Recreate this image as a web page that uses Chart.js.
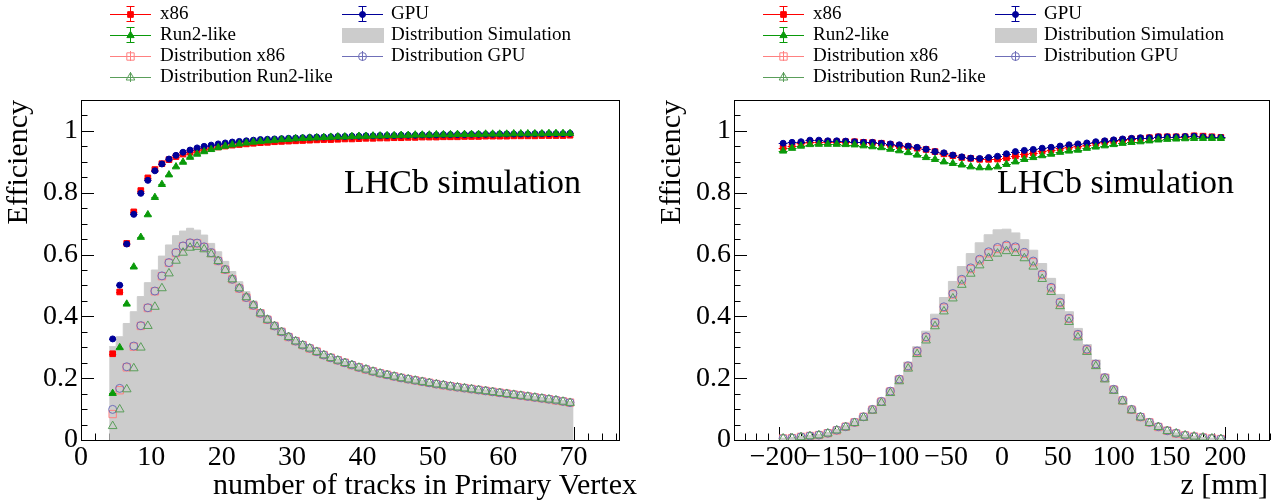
<!DOCTYPE html>
<html>
<head>
<meta charset="utf-8">
<script src="https://cdn.jsdelivr.net/npm/chart.js@4.4.1/dist/chart.umd.min.js"></script>
<style>
html, body { margin: 0; padding: 0; background: #fff; }
#wrap { position: relative; width: 1278px; height: 503px; overflow: hidden; }
canvas { position: absolute; top: 0; }
#fontProbe { position: absolute; left: -1000px; top: 0; font-family: "Liberation Serif"; font-size: 20px; }
</style>
</head>
<body>
<span id="fontProbe">LHCb simulation 0123456789</span>
<div id="wrap">
<canvas id="leftChart" width="653" height="503" style="left:0px"></canvas>
<canvas id="rightChart" width="625" height="503" style="left:653px"></canvas>
</div>
<script>
// ---- left pad: efficiency vs number of tracks in the PV ----
const nTracks = [4.5, 5.5, 6.5, 7.5, 8.5, 9.5, 10.5, 11.5, 12.5, 13.5,
  14.5, 15.5, 16.5, 17.5, 18.5, 19.5, 20.5, 21.5, 22.5, 23.5,
  24.5, 25.5, 26.5, 27.5, 28.5, 29.5, 30.5, 31.5, 32.5, 33.5,
  34.5, 35.5, 36.5, 37.5, 38.5, 39.5, 40.5, 41.5, 42.5, 43.5,
  44.5, 45.5, 46.5, 47.5, 48.5, 49.5, 50.5, 51.5, 52.5, 53.5,
  54.5, 55.5, 56.5, 57.5, 58.5, 59.5, 60.5, 61.5, 62.5, 63.5,
  64.5, 65.5, 66.5, 67.5, 68.5, 69.5];

const effX86Tracks = [0.279, 0.479, 0.636, 0.738, 0.807, 0.848, 0.875, 0.894, 0.907, 0.917,
  0.925, 0.931, 0.937, 0.941, 0.945, 0.948, 0.951, 0.954, 0.956, 0.958,
  0.960, 0.962, 0.963, 0.965, 0.966, 0.967, 0.968, 0.969, 0.970, 0.971,
  0.972, 0.972, 0.973, 0.974, 0.974, 0.975, 0.976, 0.976, 0.977, 0.977,
  0.978, 0.978, 0.979, 0.979, 0.980, 0.980, 0.980, 0.981, 0.981, 0.981,
  0.982, 0.982, 0.982, 0.983, 0.983, 0.983, 0.983, 0.984, 0.984, 0.984,
  0.984, 0.985, 0.985, 0.985, 0.985, 0.986];

const effGpuTracks = [0.327, 0.501, 0.634, 0.730, 0.798, 0.840, 0.871, 0.893, 0.909, 0.921,
  0.931, 0.938, 0.945, 0.950, 0.954, 0.958, 0.961, 0.964, 0.966, 0.968,
  0.970, 0.972, 0.973, 0.974, 0.975, 0.976, 0.977, 0.978, 0.979, 0.980,
  0.980, 0.981, 0.982, 0.982, 0.983, 0.983, 0.984, 0.984, 0.985, 0.985,
  0.985, 0.986, 0.986, 0.986, 0.987, 0.987, 0.987, 0.988, 0.988, 0.988,
  0.988, 0.989, 0.989, 0.989, 0.989, 0.990, 0.990, 0.990, 0.990, 0.990,
  0.991, 0.991, 0.991, 0.991, 0.991, 0.992];

const effRun2Tracks = [0.151, 0.299, 0.440, 0.560, 0.656, 0.729, 0.785, 0.827, 0.858, 0.884,
  0.899, 0.915, 0.925, 0.933, 0.940, 0.946, 0.951, 0.955, 0.958, 0.961,
  0.964, 0.966, 0.968, 0.970, 0.972, 0.973, 0.975, 0.976, 0.977, 0.978,
  0.979, 0.980, 0.981, 0.981, 0.982, 0.983, 0.983, 0.984, 0.984, 0.985,
  0.985, 0.986, 0.986, 0.987, 0.987, 0.987, 0.988, 0.988, 0.988, 0.989,
  0.989, 0.989, 0.989, 0.990, 0.990, 0.990, 0.990, 0.991, 0.991, 0.991,
  0.991, 0.991, 0.992, 0.992, 0.992, 0.992];

const distX86Tracks = [0.084, 0.161, 0.235, 0.302, 0.369, 0.427, 0.481, 0.530, 0.573, 0.605,
  0.627, 0.637, 0.636, 0.624, 0.605, 0.579, 0.551, 0.520, 0.490, 0.461,
  0.435, 0.410, 0.389, 0.369, 0.350, 0.333, 0.320, 0.307, 0.296, 0.286,
  0.275, 0.266, 0.258, 0.250, 0.242, 0.235, 0.228, 0.222, 0.216, 0.211,
  0.206, 0.201, 0.197, 0.193, 0.189, 0.185, 0.181, 0.177, 0.174, 0.171,
  0.168, 0.165, 0.162, 0.159, 0.156, 0.153, 0.150, 0.147, 0.144, 0.141,
  0.138, 0.135, 0.132, 0.128, 0.125, 0.121];

const distGpuTracks = [0.099, 0.167, 0.237, 0.304, 0.370, 0.428, 0.482, 0.531, 0.574, 0.606,
  0.628, 0.638, 0.637, 0.625, 0.606, 0.580, 0.552, 0.520, 0.491, 0.461,
  0.436, 0.410, 0.390, 0.369, 0.350, 0.334, 0.320, 0.307, 0.297, 0.286,
  0.275, 0.266, 0.258, 0.250, 0.243, 0.235, 0.229, 0.222, 0.216, 0.211,
  0.206, 0.201, 0.197, 0.193, 0.189, 0.185, 0.181, 0.178, 0.174, 0.171,
  0.168, 0.165, 0.162, 0.159, 0.156, 0.153, 0.150, 0.147, 0.144, 0.141,
  0.138, 0.135, 0.132, 0.129, 0.125, 0.121];

const distRun2Tracks = [0.045, 0.099, 0.164, 0.232, 0.299, 0.369, 0.431, 0.491, 0.539, 0.580,
  0.606, 0.622, 0.625, 0.617, 0.601, 0.579, 0.550, 0.520, 0.491, 0.462,
  0.436, 0.410, 0.389, 0.368, 0.349, 0.333, 0.319, 0.306, 0.296, 0.285,
  0.274, 0.265, 0.257, 0.249, 0.242, 0.234, 0.228, 0.221, 0.215, 0.210,
  0.205, 0.200, 0.196, 0.192, 0.188, 0.184, 0.180, 0.177, 0.173, 0.170,
  0.167, 0.164, 0.161, 0.158, 0.155, 0.152, 0.149, 0.146, 0.143, 0.140,
  0.137, 0.134, 0.131, 0.128, 0.124, 0.120];

const distSimTracks = [0.302, 0.334, 0.377, 0.415, 0.464, 0.509, 0.550, 0.595, 0.631, 0.661,
  0.676, 0.685, 0.679, 0.663, 0.636, 0.609, 0.578, 0.545, 0.512, 0.480,
  0.450, 0.422, 0.399, 0.378, 0.358, 0.341, 0.326, 0.313, 0.301, 0.290,
  0.280, 0.270, 0.262, 0.254, 0.246, 0.239, 0.232, 0.225, 0.219, 0.214,
  0.209, 0.204, 0.200, 0.196, 0.192, 0.188, 0.184, 0.181, 0.177, 0.174,
  0.171, 0.168, 0.165, 0.162, 0.159, 0.156, 0.153, 0.150, 0.147, 0.144,
  0.141, 0.138, 0.135, 0.132, 0.128, 0.124];

const tracksTicks = [0, 10, 20, 30, 40, 50, 60, 70];

// ---- right pad: efficiency vs z of the PV ----
const zPos = [-196, -188, -180, -172, -164, -156, -148, -140, -132, -124,
  -116, -108, -100, -92, -84, -76, -68, -60, -52, -44,
  -36, -28, -20, -12, -4, 4, 12, 20, 28, 36,
  44, 52, 60, 68, 76, 84, 92, 100, 108, 116,
  124, 132, 140, 148, 156, 164, 172, 180, 188, 196];

const effX86Z = [0.946, 0.951, 0.960, 0.965, 0.965, 0.965, 0.965, 0.965, 0.965, 0.963,
  0.962, 0.960, 0.956, 0.952, 0.949, 0.944, 0.940, 0.933, 0.926, 0.920,
  0.914, 0.911, 0.908, 0.908, 0.909, 0.913, 0.919, 0.924, 0.929, 0.935,
  0.939, 0.944, 0.949, 0.952, 0.956, 0.960, 0.965, 0.968, 0.971, 0.974,
  0.976, 0.978, 0.981, 0.981, 0.981, 0.981, 0.984, 0.983, 0.981, 0.979];

const effGpuZ = [0.960, 0.963, 0.965, 0.970, 0.970, 0.968, 0.968, 0.967, 0.965, 0.963,
  0.963, 0.960, 0.958, 0.955, 0.951, 0.947, 0.941, 0.933, 0.929, 0.922,
  0.916, 0.912, 0.911, 0.914, 0.918, 0.926, 0.933, 0.937, 0.940, 0.944,
  0.947, 0.951, 0.955, 0.958, 0.961, 0.965, 0.968, 0.971, 0.974, 0.976,
  0.978, 0.978, 0.981, 0.981, 0.981, 0.982, 0.983, 0.981, 0.980, 0.979];

const effRun2Z = [0.935, 0.944, 0.951, 0.956, 0.957, 0.957, 0.957, 0.956, 0.955, 0.952,
  0.949, 0.946, 0.941, 0.936, 0.930, 0.922, 0.914, 0.908, 0.900, 0.895,
  0.890, 0.884, 0.881, 0.881, 0.884, 0.892, 0.900, 0.908, 0.914, 0.920,
  0.925, 0.931, 0.935, 0.938, 0.944, 0.948, 0.952, 0.956, 0.960, 0.963,
  0.965, 0.968, 0.971, 0.973, 0.974, 0.975, 0.976, 0.976, 0.976, 0.976];

const distX86Z = [0.005, 0.006, 0.010, 0.013, 0.016, 0.022, 0.031, 0.043, 0.057, 0.075,
  0.098, 0.124, 0.157, 0.196, 0.238, 0.286, 0.332, 0.379, 0.428, 0.471,
  0.516, 0.553, 0.581, 0.604, 0.618, 0.627, 0.621, 0.603, 0.575, 0.534,
  0.491, 0.443, 0.392, 0.340, 0.292, 0.245, 0.201, 0.163, 0.128, 0.098,
  0.074, 0.057, 0.042, 0.030, 0.021, 0.015, 0.011, 0.008, 0.005, 0.003];

const distGpuZ = [0.005, 0.006, 0.010, 0.013, 0.016, 0.022, 0.032, 0.043, 0.057, 0.075,
  0.099, 0.125, 0.158, 0.197, 0.240, 0.288, 0.334, 0.381, 0.431, 0.474,
  0.520, 0.557, 0.585, 0.609, 0.623, 0.631, 0.625, 0.607, 0.579, 0.537,
  0.494, 0.446, 0.394, 0.342, 0.294, 0.246, 0.202, 0.164, 0.129, 0.099,
  0.075, 0.057, 0.043, 0.030, 0.022, 0.015, 0.011, 0.008, 0.005, 0.003];

const distRun2Z = [0.005, 0.006, 0.009, 0.012, 0.015, 0.021, 0.031, 0.041, 0.055, 0.072,
  0.095, 0.120, 0.152, 0.190, 0.231, 0.278, 0.322, 0.368, 0.416, 0.458,
  0.502, 0.538, 0.565, 0.589, 0.603, 0.611, 0.605, 0.588, 0.561, 0.521,
  0.479, 0.433, 0.382, 0.332, 0.285, 0.239, 0.196, 0.159, 0.125, 0.096,
  0.073, 0.055, 0.042, 0.029, 0.021, 0.015, 0.011, 0.008, 0.005, 0.003];

const distSimZ = [0.006, 0.008, 0.011, 0.014, 0.018, 0.024, 0.034, 0.046, 0.061, 0.080,
  0.104, 0.132, 0.166, 0.206, 0.252, 0.302, 0.352, 0.407, 0.461, 0.513,
  0.561, 0.603, 0.638, 0.664, 0.680, 0.682, 0.670, 0.648, 0.614, 0.571,
  0.523, 0.471, 0.415, 0.361, 0.309, 0.259, 0.213, 0.172, 0.136, 0.105,
  0.079, 0.060, 0.045, 0.032, 0.023, 0.016, 0.012, 0.008, 0.006, 0.004];

const zTicks = [-200, -150, -100, -50, 0, 50, 100, 150, 200];

const effTicks = [0, 0.2, 0.4, 0.6, 0.8, 1];

// marker styles, ROOT-like
const st = {
  x86:   { color: '#ff0000', shape: 'rect', r: 4, filled: true },
  gpu:   { color: '#000099', shape: 'circle', r: 3, filled: true },
  run2:  { color: '#0a9a0a', shape: 'triangle', r: 4.2, filled: true },
  dX86:  { color: '#ff8080', shape: 'rect', r: 5.2, filled: false },
  dGpu:  { color: '#6f6fb8', shape: 'circle', r: 4, filled: false },
  dRun2: { color: '#5a9e5a', shape: 'triangle', r: 5, filled: false },
  sim:   '#cccccc'
};

const serif = '"Liberation Serif"';

function pts(xs, ys) {
  return xs.map((x, i) => ({ x: x, y: ys[i] }));
}

// step histogram: one point per lower edge plus the closing upper edge
function histPts(xs, ys, halfBin) {
  const out = xs.map((x, i) => ({ x: x - halfBin, y: ys[i] }));
  out.push({ x: xs[xs.length - 1] + halfBin, y: ys[ys.length - 1] });
  return out;
}

function pointSet(label, s, xs, ys, xErr, order) {
  const fill = s.filled ? s.color : 'rgba(0,0,0,0)';
  return {
    label: label,
    data: pts(xs, ys),
    showLine: false,
    pointStyle: s.shape,
    pointRadius: s.r,
    pointHoverRadius: s.r,
    borderWidth: 1,
    pointBorderWidth: 1,
    borderColor: s.color,
    pointBorderColor: s.color,
    backgroundColor: fill,
    pointBackgroundColor: fill,
    xErr: xErr,
    order: order
  };
}

function drawMarker(ctx, s, x, y) {
  ctx.fillStyle = s.filled ? s.color : 'rgba(0,0,0,0)';
  ctx.strokeStyle = s.color;
  ctx.lineWidth = 1;
  Chart.helpers.drawPoint(ctx, { pointStyle: s.shape, radius: s.r, rotation: 0, borderWidth: 1 }, x, y);
}

function legendLine(ctx, s, cx, y, bar, caps) {
  ctx.strokeStyle = s.color;
  ctx.lineWidth = 1;
  ctx.beginPath();
  ctx.moveTo(cx - 20, y + 0.5);
  ctx.lineTo(cx + 21, y + 0.5);
  ctx.moveTo(cx + 0.5, y - bar);
  ctx.lineTo(cx + 0.5, y + bar);
  if (caps) {
    ctx.moveTo(cx - 3.5, y - bar + 0.5);
    ctx.lineTo(cx + 4.5, y - bar + 0.5);
    ctx.moveTo(cx - 3.5, y + bar - 0.5);
    ctx.lineTo(cx + 4.5, y + bar - 0.5);
  }
  ctx.stroke();
  drawMarker(ctx, s, cx + 0.5, y + 0.5);
}

const rootStyle = {
  id: 'rootStyle',
  beforeDatasetsDraw(chart, args, o) {
    const ctx = chart.ctx, a = chart.chartArea;
    const sx = chart.scales.x, sy = chart.scales.y;
    ctx.save();
    ctx.strokeStyle = '#000';
    ctx.lineWidth = 1;
    ctx.beginPath();
    const nx = Math.round((sx.max - sx.min) / o.xMinor);
    for (let i = 0; i <= nx; i++) {
      const v = sx.min + i * o.xMinor;
      const major = o.xMajor.some(m => Math.abs(m - v) < 1e-6);
      const px = Math.round(sx.getPixelForValue(v)) + 0.5;
      ctx.moveTo(px, a.bottom);
      ctx.lineTo(px, a.bottom - (major ? 13 : 6.5));
    }
    const ny = Math.round((sy.max - sy.min) / o.yMinor);
    for (let i = 0; i <= ny; i++) {
      const v = sy.min + i * o.yMinor;
      const major = o.yMajor.some(m => Math.abs(m - v) < 1e-6);
      const py = Math.round(sy.getPixelForValue(v)) + 0.5;
      ctx.moveTo(a.left, py);
      ctx.lineTo(a.left + (major ? 13 : 6.5), py);
    }
    ctx.stroke();
    ctx.restore();
  },
  // horizontal (bin width) error bars of the efficiency graphs
  beforeDatasetDraw(chart, args) {
    const ds = chart.data.datasets[args.index];
    if (!ds.xErr) return;
    const ctx = chart.ctx, sx = chart.scales.x;
    ctx.save();
    ctx.strokeStyle = ds.borderColor;
    ctx.lineWidth = 1;
    ctx.beginPath();
    args.meta.data.forEach((el, i) => {
      const d = ds.data[i];
      const y = Math.round(el.y) + 0.5;
      ctx.moveTo(sx.getPixelForValue(d.x - ds.xErr), y);
      ctx.lineTo(sx.getPixelForValue(d.x + ds.xErr), y);
    });
    ctx.stroke();
    ctx.restore();
  },
  afterDatasetsDraw(chart) {
    const ctx = chart.ctx, a = chart.chartArea;
    ctx.save();
    ctx.strokeStyle = '#000';
    ctx.lineWidth = 1;
    ctx.strokeRect(a.left + 0.5, a.top + 0.5, a.right - a.left - 1, a.bottom - a.top);
    ctx.restore();
  },
  afterDraw(chart, args, o) {
    const ctx = chart.ctx, a = chart.chartArea;
    ctx.save();
    ctx.fillStyle = '#000';

    // axis titles
    ctx.font = '30px ' + serif;
    ctx.textBaseline = 'alphabetic';
    ctx.textAlign = 'right';
    ctx.fillText(o.xTitle, o.xTitleRight, 494);
    ctx.save();
    ctx.translate(27, a.top);
    ctx.rotate(-Math.PI / 2);
    ctx.fillText('Efficiency', 0, 0);
    ctx.restore();

    ctx.font = '34px ' + serif;
    ctx.textAlign = 'left';
    ctx.fillText('LHCb simulation', a.left + 263, 193);

    // legend, two columns as in the ROOT TLegend
    const c1 = 130, c2 = 362, t1 = 160, t2 = 391;
    const rows = [14, 35, 56, 77];
    legendLine(ctx, st.x86, c1, rows[0], 8, true);
    legendLine(ctx, st.gpu, c2, rows[0], 8, true);
    legendLine(ctx, st.run2, c1, rows[1], 8, true);
    ctx.fillStyle = st.sim;
    ctx.fillRect(c2 - 20, rows[1] - 7, 42, 15);
    legendLine(ctx, st.dX86, c1, rows[2], 5, false);
    legendLine(ctx, st.dGpu, c2, rows[2], 5, false);
    legendLine(ctx, st.dRun2, c1, rows[3], 5, false);

    ctx.fillStyle = '#000';
    ctx.font = '19px ' + serif;
    ctx.textBaseline = 'middle';
    ctx.textAlign = 'left';
    ctx.fillText('x86', t1, rows[0]);
    ctx.fillText('GPU', t2, rows[0]);
    ctx.fillText('Run2-like', t1, rows[1]);
    ctx.fillText('Distribution Simulation', t2, rows[1]);
    ctx.fillText('Distribution x86', t1, rows[2]);
    ctx.fillText('Distribution GPU', t2, rows[2]);
    ctx.fillText('Distribution Run2-like', t1, rows[3]);
    ctx.restore();
  }
};

function fmtTick(v) {
  return v < 0 ? '\u2212' + String(-v) : String(v);
}

function makePad(id, p) {
  return new Chart(document.getElementById(id), {
    type: 'scatter',
    data: {
      datasets: [
        pointSet('x86', st.x86, p.xs, p.effX86, p.halfBin, 3),
        pointSet('GPU', st.gpu, p.xs, p.effGpu, p.halfBin, 2),
        pointSet('Run2-like', st.run2, p.xs, p.effRun2, p.halfBin, 1),
        {
          type: 'line',
          label: 'Distribution Simulation',
          data: histPts(p.xs, p.distSim, p.halfBin),
          stepped: true,
          fill: 'origin',
          backgroundColor: st.sim,
          borderColor: st.sim,
          borderWidth: 1,
          pointRadius: 0,
          order: 10
        },
        pointSet('Distribution x86', st.dX86, p.xs, p.distX86, 0, 6),
        pointSet('Distribution GPU', st.dGpu, p.xs, p.distGpu, 0, 5),
        pointSet('Distribution Run2-like', st.dRun2, p.xs, p.distRun2, 0, 4)
      ]
    },
    options: {
      responsive: false,
      animation: false,
      events: [],
      layout: { padding: { top: 100, right: p.padRight, left: 0, bottom: 0 } },
      plugins: {
        legend: { display: false },
        tooltip: { enabled: false },
        rootStyle: {
          xMajor: p.xTicks, xMinor: p.xMinor,
          yMajor: effTicks, yMinor: 0.05,
          xTitle: p.xTitle, xTitleRight: p.xTitleRight
        }
      },
      scales: {
        x: {
          type: 'linear',
          bounds: 'data',
          min: p.xMin,
          max: p.xMax,
          grid: { display: false, drawTicks: false },
          border: { display: false },
          afterBuildTicks: s => { s.ticks = p.xTicks.map(v => ({ value: v })); },
          afterFit: s => { s.height = 63; },
          ticks: {
            autoSkip: false, maxRotation: 0, minRotation: 0, padding: 1,
            color: '#000', font: { family: serif, size: 28 },
            callback: v => fmtTick(v)
          }
        },
        y: {
          type: 'linear',
          bounds: 'data',
          min: 0,
          max: 1.1,
          grid: { display: false, drawTicks: false },
          border: { display: false },
          afterBuildTicks: s => { s.ticks = effTicks.map(v => ({ value: v })); },
          afterFit: s => { s.width = 81; },
          ticks: {
            autoSkip: false, padding: 3,
            color: '#000', font: { family: serif, size: 28 },
            callback: v => fmtTick(v)
          }
        }
      }
    },
    plugins: [rootStyle]
  });
}

function drawAll() {
  makePad('leftChart', {
    xs: nTracks, halfBin: 0.5,
    effX86: effX86Tracks, effGpu: effGpuTracks, effRun2: effRun2Tracks,
    distX86: distX86Tracks, distGpu: distGpuTracks, distRun2: distRun2Tracks, distSim: distSimTracks,
    xMin: 0, xMax: 76.6, xTicks: tracksTicks, xMinor: 2,
    xTitle: 'number of tracks in Primary Vertex', xTitleRight: 637,
    padRight: 33
  });

  makePad('rightChart', {
    xs: zPos, halfBin: 4,
    effX86: effX86Z, effGpu: effGpuZ, effRun2: effRun2Z,
    distX86: distX86Z, distGpu: distGpuZ, distRun2: distRun2Z, distSim: distSimZ,
    xMin: -240, xMax: 240, xTicks: zTicks, xMinor: 10,
    xTitle: 'z [mm]', xTitleRight: 615,
    padRight: 8
  });
}

// make sure the serif face is ready before the canvas text is drawn
Promise.all([
  document.fonts.load('28px "Liberation Serif"'),
  document.fonts.load('34px "Liberation Serif"')
]).then(drawAll, drawAll);
</script>
</body>
</html>
